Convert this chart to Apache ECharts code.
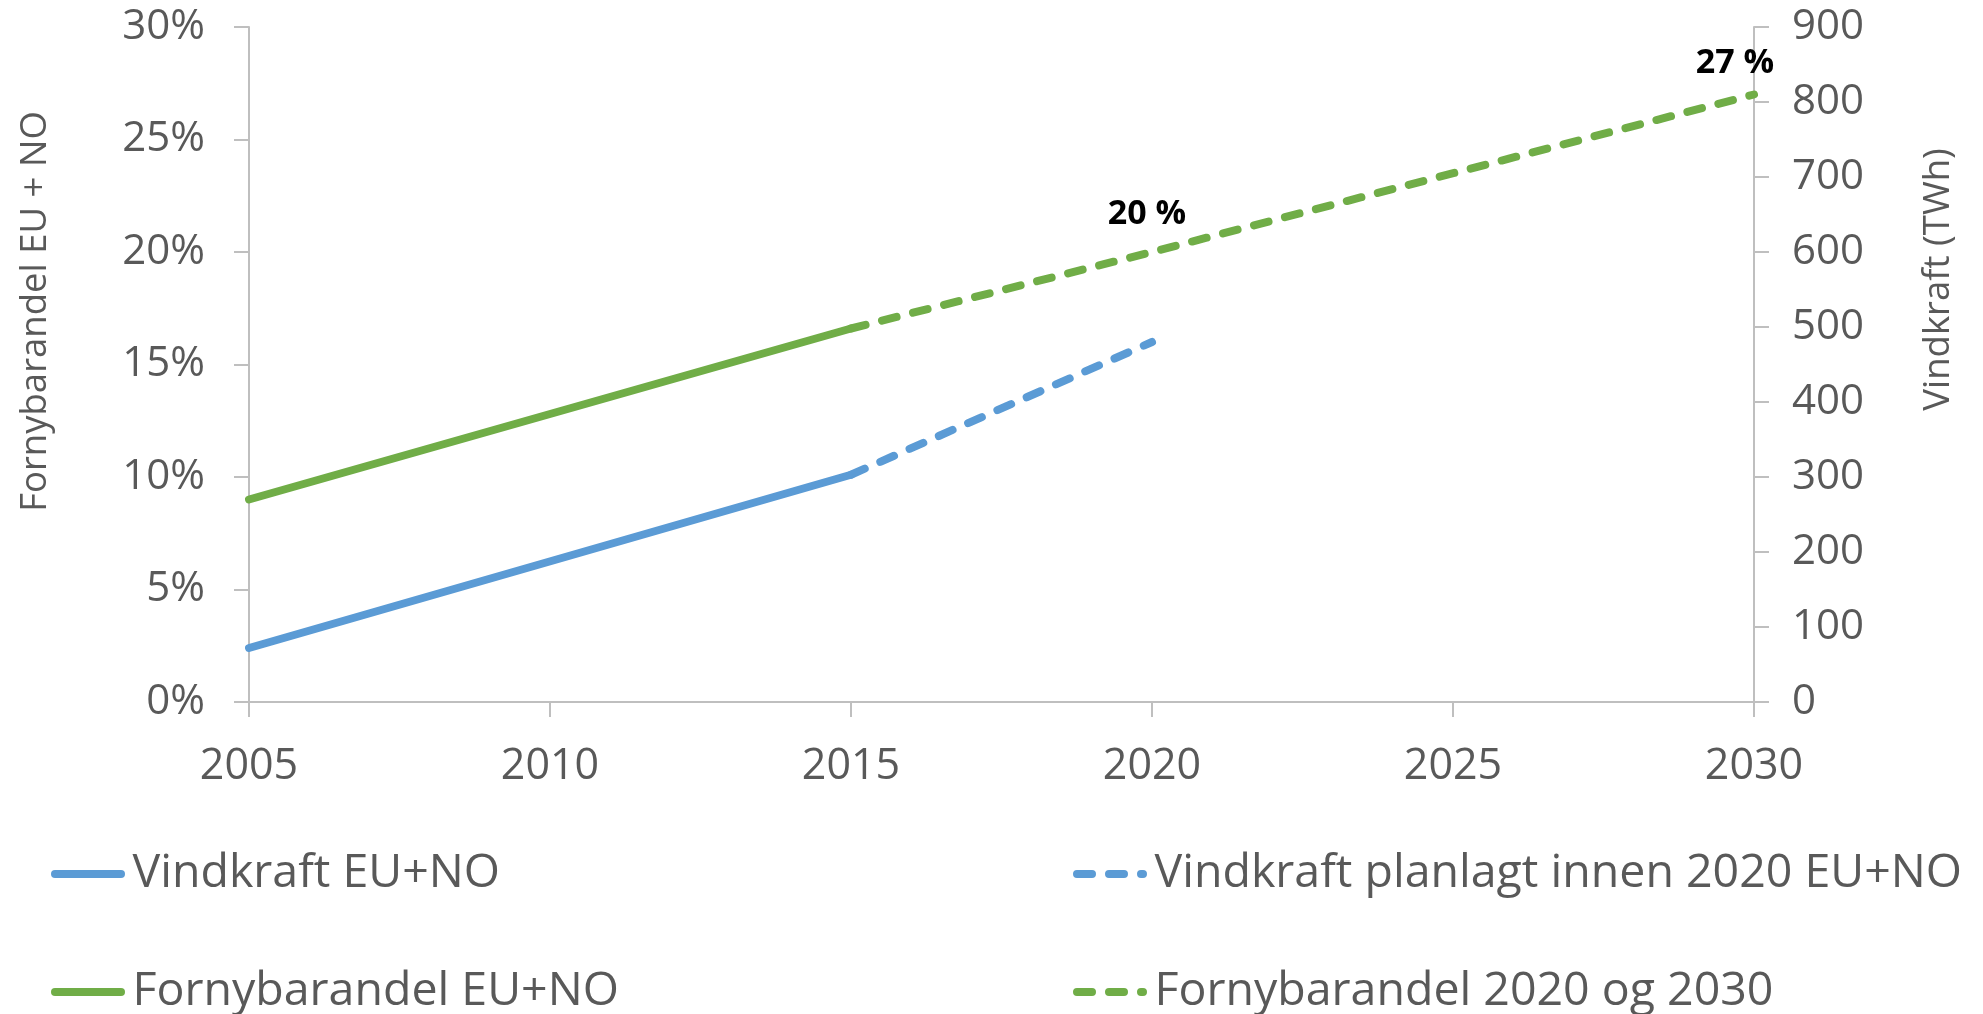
<!DOCTYPE html>
<html><head><meta charset="utf-8">
<script src="https://cdn.jsdelivr.net/npm/echarts@6/dist/echarts.min.js"></script>
<style>html,body{margin:0;padding:0;background:#fff}#c{width:1983px;height:1014px}</style>
</head><body><div id="c"></div>
<script>
// Data
const windYears = [2005, 2015];
const windTWh = [72, 303];
const windPlanYears = [2015, 2020];
const windPlanTWh = [303, 480];
const shareYears = [2005, 2015];
const sharePct = [9.0, 16.6];
const targetYears = [2015, 2020, 2030];
const targetPct = [16.6, 20, 27];
const targetLabels = ['', '20 %', '27 %'];
const seriesNames = ['Vindkraft EU+NO', 'Vindkraft planlagt innen 2020 EU+NO', 'Fornybarandel EU+NO', 'Fornybarandel 2020 og 2030'];

const BLUE = '#5B9BD5', GREEN = '#70AD47', GREY = '#BFBFBF', TXT = '#595959';
const FONT = '"Open Sans", "Liberation Sans", sans-serif';
const pairs = (xs, ys) => xs.map((x, i) => [x, ys[i]]);
const labelOffsets = [[0,0],[-5,2],[-19,9]];
const DASH = [15, 17];

const chart = echarts.init(document.getElementById('c'), null, {renderer: 'canvas'});
const axisLineStyle = {show: true, lineStyle: {color: GREY, width: 2}};
const tickStyle = {show: true, length: 15, inside: false, lineStyle: {color: GREY, width: 2}};

const legendPos = [[46, 869], [1068, 869], [46, 987], [1068, 987]];
const legends = seriesNames.map((n, i) => ({
  orient: 'horizontal', left: legendPos[i][0], top: legendPos[i][1] - 30,
  itemWidth: 66, itemHeight: 1, itemGap: 7,
  data: [n],
  itemStyle: {opacity: 0, borderWidth: 0},
  lineStyle: {width: 8, cap: 'round'},
  textStyle: {color: TXT, fontSize: 46.5, fontFamily: FONT, lineHeight: 60, padding: [0,0,0,6.5]}
}));

chart.setOption({
  animation: false,
  grid: {left: 249, right: 229, top: 27, bottom: 312, containLabel: false},
  xAxis: {
    type: 'value', min: 2005, max: 2030, interval: 5,
    axisLine: axisLineStyle, axisTick: tickStyle, splitLine: {show: false},
    axisLabel: {color: TXT, fontSize: 43, fontFamily: FONT, margin: 43, formatter: v => String(v)}
  },
  yAxis: [{
    type: 'value', min: 0, max: 30, interval: 5, position: 'left',
    name: 'Fornybarandel EU + NO', nameLocation: 'middle', nameRotate: 90, nameGap: 195,
    nameTextStyle: {color: TXT, fontSize: 36.5, fontFamily: FONT, padding: [0, 0, 0, 106]},
    axisLine: axisLineStyle, axisTick: tickStyle, splitLine: {show: false},
    axisLabel: {color: TXT, fontSize: 42, fontFamily: FONT, margin: 44, formatter: '{value}%'}
  }, {
    type: 'value', min: 0, max: 900, interval: 100, position: 'right',
    name: 'Vindkraft (TWh)', nameLocation: 'middle', nameRotate: 90, nameGap: 166,
    nameTextStyle: {color: TXT, fontSize: 36.5, fontFamily: FONT, padding: [0, 0, 0, 170]},
    axisLine: axisLineStyle, axisTick: tickStyle, splitLine: {show: false},
    axisLabel: {color: TXT, fontSize: 42, fontFamily: FONT, margin: 38}
  }],
  legend: legends,
  series: [{
    name: seriesNames[0], type: 'line', yAxisIndex: 1, symbol: 'none',
    data: pairs(windYears, windTWh), color: BLUE,
    lineStyle: {color: BLUE, width: 8, cap: 'round'}
  }, {
    name: seriesNames[1], type: 'line', yAxisIndex: 1, symbol: 'none',
    data: pairs(windPlanYears, windPlanTWh), color: BLUE,
    lineStyle: {color: BLUE, width: 8, type: DASH, cap: 'round'}
  }, {
    name: seriesNames[2], type: 'line', yAxisIndex: 0, symbol: 'none',
    data: pairs(shareYears, sharePct), color: GREEN,
    lineStyle: {color: GREEN, width: 8, cap: 'round'}
  }, {
    name: seriesNames[3], type: 'line', yAxisIndex: 0,
    symbol: 'circle', symbolSize: 0.01, showSymbol: true,
    data: targetYears.map((x, i) => ({
      value: [x, targetPct[i]],
      label: {show: targetLabels[i] !== '', formatter: targetLabels[i], offset: labelOffsets[i]}
    })),
    color: GREEN,
    lineStyle: {color: GREEN, width: 8, type: DASH, cap: 'round'},
    label: {show: true, position: 'top', distance: 23, color: '#000', fontWeight: 'bold', fontSize: 34, fontFamily: FONT}
  }]
});
</script></body></html>
